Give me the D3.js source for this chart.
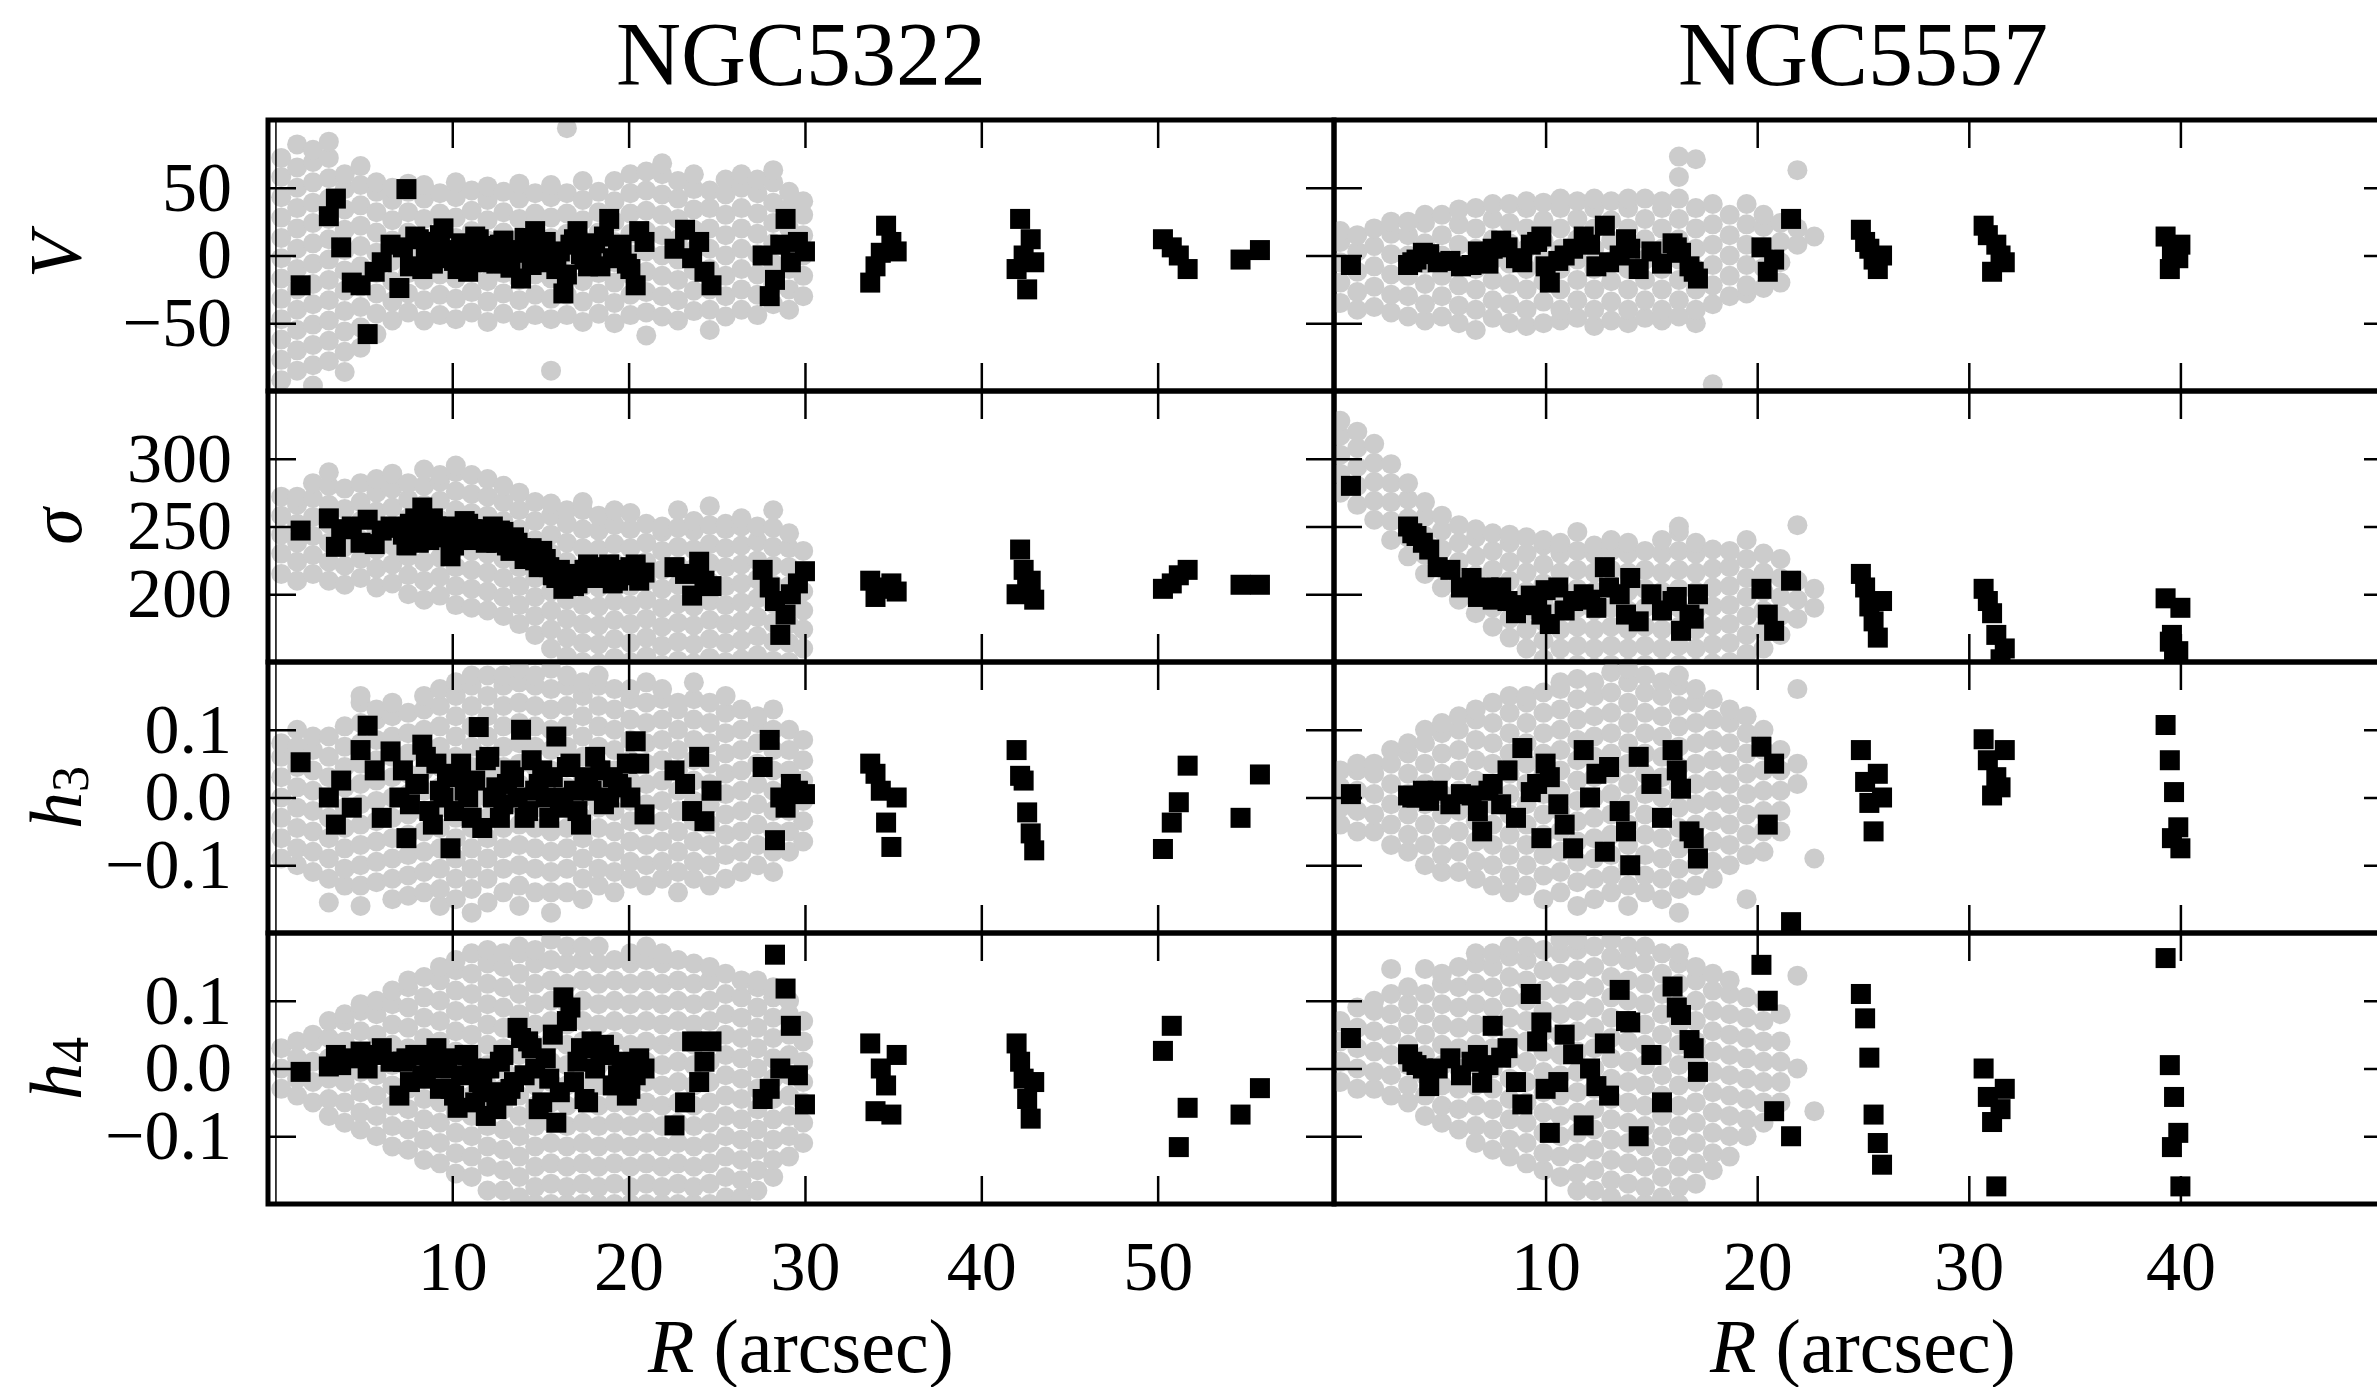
<!DOCTYPE html>
<html>
<head>
<meta charset="utf-8">
<script src="https://cdn.jsdelivr.net/npm/d3@7"></script>
<style>
  body { margin: 0; background: #fff; }
  svg { display: block; }
</style>
</head>
<body>
<svg id="chart"></svg>
<script>
// ---- binned kinematics (black squares) ----
const r5322 = [1.4, 3.0, 3.4, 3.7, 4.3, 4.8, 5.2, 5.6, 6.0, 6.5,
  7.0, 7.4, 7.9, 8.3, 8.7, 9.1, 9.5, 9.9, 10.3, 10.7,
  11.1, 11.5, 11.9, 12.3, 12.7, 13.1, 13.5, 13.9, 14.3, 14.7,
  15.1, 15.5, 15.9, 16.3, 16.7, 17.1, 17.5, 17.9, 18.4, 18.9,
  19.4, 19.9, 20.4, 20.9,
  22.6, 23.2, 23.6, 24.0, 24.3, 24.7,
  27.6, 28.0, 28.3, 28.6, 28.9, 29.2, 29.6, 30.0,
  33.7, 34.0, 34.3, 34.6, 34.9, 35.2,
  42.0, 42.2, 42.4, 42.6, 42.8, 43.0,
  50.3, 50.8, 51.2, 51.7,
  54.7, 55.8,
  7.2, 7.6, 8.1, 8.5, 8.9, 9.3, 9.7, 10.1, 10.5, 10.9,
  11.3, 11.7, 12.1, 12.5, 12.9, 13.3, 13.7, 14.1, 14.5, 14.9,
  15.3, 15.7, 16.1, 16.5, 16.9, 17.3, 17.7, 18.1, 18.6, 19.1,
  19.6, 20.1, 20.6];
const v5322 = [-22, 29, 42, 6, -20, -22, -58, -12, -5, 8,
  -24, 49, 14, -10, 3, 10, 20, -2, -10, 5,
  2, 12, -5, 0, 8, -3, 4, -17, 6, 18,
  -5, 2, -10, -28, 8, 18, -3, 4, -8, 27,
  2, -6, -22, 10,
  5, 19, -2, 10, -12, -22,
  0, -30, -18, 8, 27, -5, 10, 3,
  -20, -8, 2, 22, 10, 3,
  -10, 27, 0, -25, 12, -5,
  12, 6, 0, -10,
  -3, 4,
  6, -8, 12, 0, -6, 15, 4, -4, 9, -12,
  14, 0, 7, -6, 11, -9, 2, 13, -7, 5,
  10, -4, 3, -14, 12, 1, -8, 9, 14, -2,
  8, -10, 18];
const s5322 = [247, 256, 235, 248, 250, 238, 255, 237, 247, 250,
  249, 236, 256, 264, 240, 250, 247, 228, 240, 254,
  248, 245, 238, 250, 247, 236, 242, 234, 228, 225,
  232, 220, 212, 204, 215, 208, 218, 214, 220, 222,
  210, 218, 222, 216,
  220, 215, 199, 224, 210, 206,
  218, 205, 195, 170, 185, 200, 208, 217,
  210, 198, 204, 205, 208, 202,
  200, 233, 218, 205, 210, 196,
  204, 208, 214, 218,
  207, 207,
  244, 252, 238, 248, 256, 242, 250, 236, 246, 252,
  240, 248, 243, 238, 246, 232, 238, 226, 234, 220,
  226, 214, 218, 210, 206, 214, 222, 212, 218, 208,
  214, 220, 210];
const h3_5322 = [0.052, 0.0, -0.04, 0.025, -0.015, 0.07, 0.106, 0.04, -0.03, 0.068,
  0.0, -0.06, 0.02, 0.078, -0.02, 0.05, 0.0, -0.075, 0.03, 0.01,
  -0.03, 0.104, 0.055, 0.0, -0.03, 0.02, 0.03, 0.1, -0.02, 0.01,
  0.04, -0.03, 0.09, 0.0, 0.05, -0.02, 0.03, 0.01, 0.04, 0.0,
  0.02, 0.05, 0.083, -0.025,
  0.04, 0.02, -0.02, 0.06, -0.035, 0.01,
  0.045, 0.085, -0.063, 0.0, -0.015, 0.02, 0.01, 0.005,
  0.05, 0.035, 0.01, -0.037, -0.073, 0.0,
  0.07, 0.032, 0.025, -0.022, -0.053, -0.078,
  -0.076, -0.037, -0.007, 0.047,
  -0.03, 0.034,
  0.04, -0.01, 0.02, 0.06, -0.04, 0.01, 0.035, -0.02, 0.05, 0.0,
  0.025, -0.045, 0.06, 0.015, -0.01, 0.04, 0.0, -0.03, 0.055, 0.02,
  0.0, 0.03, -0.015, 0.045, 0.01, -0.04, 0.025, 0.06, -0.01, 0.03,
  0.015, 0.0, 0.05];
const h4_5322 = [-0.005, 0.003, 0.02, 0.005, 0.015, 0.025, 0.0, 0.02, 0.03, 0.01,
  -0.04, 0.015, 0.02, -0.01, 0.005, 0.03, 0.0, -0.03, -0.058, 0.02,
  0.0, -0.02, -0.07, -0.035, 0.01, -0.04, -0.02, 0.045, 0.04, 0.0,
  -0.05, -0.015, -0.08, 0.105, 0.09, 0.01, -0.045, 0.04, 0.02, 0.02,
  -0.01, -0.04, -0.01, 0.0,
  -0.084, -0.05, 0.04, -0.02, 0.01, 0.04,
  -0.045, -0.03, 0.168, 0.0, 0.118, 0.063, -0.01, -0.053,
  0.037, -0.063, 0.0, -0.025, -0.068, 0.02,
  0.037, 0.01, -0.015, -0.045, -0.074, -0.02,
  0.026, 0.063, -0.116, -0.058,
  -0.068, -0.029,
  0.01, -0.02, 0.02, -0.015, 0.005, -0.03, 0.015, -0.04, -0.01, 0.02,
  -0.05, -0.025, 0.0, -0.06, 0.02, -0.03, 0.06, -0.01, 0.03, -0.06,
  0.015, 0.05, -0.035, 0.07, -0.02, 0.03, -0.05, 0.0, 0.035, -0.025,
  0.01, -0.03, 0.015];

const r5557 = [0.8, 3.5, 3.9, 4.5, 4.9, 6.5, 7.0, 7.5, 7.9, 8.9,
  9.3, 9.8, 10.2, 10.6, 11.3, 11.8, 12.4, 12.8, 13.5, 14.0,
  14.4, 16.0, 16.4, 16.8, 17.2, 20.2, 20.5, 20.8, 21.6,
  24.9, 25.1, 25.3, 25.5, 25.7, 25.9,
  30.7, 30.9, 31.1, 31.3, 31.5, 31.7,
  39.3, 39.5, 39.6, 39.7, 39.9, 40.0,
  3.7, 4.2, 5.5, 6.0, 6.8, 7.3, 8.2, 8.6, 9.6, 10.0,
  10.9, 12.1, 13.0, 13.8, 15.0, 15.5, 16.2, 17.0];
const v5557 = [-7, -7, -3, 1, -5, -7, -2, 5, 11, -5,
  8, 14, -20, -4, 5, 14, -8, 22, 0, 5,
  -10, 9, 2, -8, -17, 6, -12, -3, 27,
  19, 10, 5, -3, -10, 0,
  22, 15, -12, 8, 0, -5,
  14, -10, 0, 5, -2, 8,
  -5, 2, -4, -8, 3, -6, 6, -2, 10, -8,
  0, 8, -5, 12, 3, -6, 6, -12];
const s5557 = [280, 250, 243, 233, 220, 212, 200, 196, 205, 192,
  199, 185, 178, 205, 195, 200, 190, 220, 200, 212,
  180, 195, 173, 185, 200, 204, 185, 173, 210,
  215, 205, 191, 180, 168, 195,
  204, 195, 186, 170, 152, 160,
  197, 165, 170, 153, 158, 190,
  245, 238, 218, 205, 198, 205, 195, 186, 192, 203,
  188, 196, 205, 185, 200, 188, 198, 182];
const h3_5557 = [0.005, 0.003, 0.0, -0.005, 0.01, 0.003, -0.05, 0.02, -0.01, 0.073,
  0.008, -0.06, 0.03, -0.01, -0.075, 0.07, 0.035, -0.08, -0.02, -0.1,
  0.06, 0.07, 0.013, -0.05, -0.09, 0.075, -0.04, 0.05, -0.184,
  0.07, 0.023, -0.008, -0.05, 0.035, 0.0,
  0.086, 0.055, 0.003, 0.03, 0.015, 0.07,
  0.107, 0.055, -0.06, 0.008, -0.044, -0.075,
  0.0, 0.01, -0.01, 0.005, -0.02, 0.01, 0.04, -0.03, 0.02, 0.05,
  -0.04, 0.0, 0.045, -0.05, 0.02, -0.03, 0.04, -0.06];
const h4_5557 = [0.045, 0.021, 0.005, -0.026, 0.0, 0.01, -0.021, 0.063, 0.016, -0.053,
  0.11, 0.068, -0.095, -0.02, 0.021, -0.084, -0.026, 0.037, 0.116, 0.068,
  -0.1, 0.121, 0.079, 0.042, -0.005, 0.153, 0.1, -0.063, -0.1,
  0.11, 0.074, 0.016, -0.068, -0.11, -0.142,
  0.0, -0.042, -0.079, -0.174, -0.06, -0.03,
  0.163, 0.005, -0.116, -0.042, -0.095, -0.174,
  0.01, 0.0, 0.015, -0.01, 0.02, 0.005, 0.03, -0.02, 0.04, -0.03,
  0.05, 0.0, -0.04, 0.07, 0.02, -0.05, 0.09, 0.03];

// ---- individual spectra (grey dots), one list of values per radius ----
const gR5322 = [0.3, 1.2, 2.1, 3.0, 3.9, 4.8, 5.7, 6.6, 7.5, 8.4,
  9.3, 10.2, 11.1, 12.0, 12.9, 13.8, 14.7, 15.6, 16.5, 17.4,
  18.3, 19.2, 20.1, 21.0, 21.9, 22.8, 23.7, 24.6, 25.5, 26.4,
  27.3, 28.2, 29.1, 29.9];
const gV5322 = [
  [-92, -77, -62, -47, -32, -17, -2, 13, 28, 43, 58, 72],
  [-85, -70, -55, -40, -25, -10, 5, 20, 35, 50, 65, 82],
  [-96, -81, -66, -51, -36, -21, -6, 9, 24, 39, 54, 69, 78],
  [-78, -63, -48, -33, -18, -3, 12, 27, 42, 57, 72, 84],
  [-86, -71, -56, -41, -26, -11, 4, 19, 34, 49, 60],
  [-68, -53, -38, -23, -8, 7, 22, 37, 52, 66],
  [-58, -43, -28, -13, 2, 17, 32, 47, 54],
  [-48, -34, -19, -4, 11, 26, 41, 50],
  [-42, -28, -13, 2, 17, 32, 47, 53],
  [-48, -33, -18, -3, 12, 27, 42, 52],
  [-44, -29, -14, 1, 16, 31, 46],
  [-47, -32, -17, -2, 13, 28, 43, 54],
  [-42, -27, -12, 3, 18, 33, 48],
  [-49, -34, -19, -4, 11, 26, 41, 51],
  [-43, -28, -13, 2, 17, 32, 47],
  [-48, -33, -18, -3, 12, 27, 42, 53],
  [-44, -29, -14, 1, 16, 31, 46],
  [-85, -47, -32, -17, -2, 13, 28, 43, 52],
  [-44, -29, -14, 1, 16, 31, 46, 94],
  [-49, -34, -19, -4, 11, 26, 41, 55],
  [-43, -28, -13, 2, 17, 32, 47],
  [-50, -35, -20, -5, 10, 25, 40, 55],
  [-44, -29, -14, 1, 16, 31, 46, 60],
  [-59, -42, -27, -12, 3, 18, 33, 48, 62],
  [-45, -30, -15, 0, 15, 30, 45, 60, 68],
  [-48, -33, -18, -3, 12, 27, 42, 55],
  [-41, -26, -11, 4, 19, 34, 49, 60],
  [-55, -40, -25, -10, 5, 20, 35, 48],
  [-45, -30, -15, 0, 15, 30, 45, 56],
  [-40, -25, -10, 5, 20, 35, 50, 60],
  [-44, -29, -14, 1, 16, 31, 46, 56],
  [-36, -21, -6, 9, 24, 39, 54, 63],
  [-40, -25, -10, 5, 20, 35, 47],
  [-30, -15, 0, 15, 30, 40]];
const gS5322 = [
  [215, 230, 244, 258, 272],
  [210, 224, 238, 252, 266, 272],
  [215, 229, 243, 257, 271, 282],
  [210, 224, 238, 252, 266, 280, 290],
  [207, 221, 235, 249, 263, 278],
  [212, 226, 240, 254, 268, 282],
  [205, 219, 233, 247, 261, 275, 285],
  [208, 222, 236, 250, 264, 278, 289],
  [200, 214, 228, 242, 256, 270, 282],
  [196, 210, 224, 238, 252, 266, 280, 292],
  [199, 213, 227, 241, 255, 269, 283, 288],
  [192, 206, 220, 234, 248, 262, 276, 290, 295],
  [190, 204, 218, 232, 246, 260, 274, 288],
  [188, 202, 216, 230, 244, 258, 272, 285],
  [184, 198, 212, 226, 240, 254, 268, 280],
  [178, 192, 206, 220, 234, 248, 262, 275],
  [170, 184, 198, 212, 226, 240, 254, 268],
  [160, 174, 188, 202, 216, 230, 244, 258, 267],
  [154, 168, 182, 196, 210, 224, 238, 252, 262],
  [150, 164, 178, 192, 206, 220, 234, 248, 262, 268],
  [149, 163, 177, 191, 205, 219, 233, 247, 258],
  [153, 167, 181, 195, 209, 223, 237, 251, 262],
  [150, 164, 178, 192, 206, 220, 234, 248, 260],
  [154, 168, 182, 196, 210, 224, 238, 252],
  [148, 162, 176, 190, 204, 218, 232, 246, 250],
  [151, 165, 179, 193, 207, 221, 235, 249, 262],
  [149, 163, 177, 191, 205, 219, 233, 247, 254],
  [153, 167, 181, 195, 209, 223, 237, 251, 265],
  [150, 164, 178, 192, 206, 220, 234, 248, 252],
  [152, 166, 180, 194, 208, 222, 236, 250, 256],
  [155, 169, 183, 197, 211, 225, 239, 250],
  [151, 165, 179, 193, 207, 221, 235, 249, 262],
  [150, 164, 178, 192, 206, 220, 234, 245],
  [160, 174, 188, 202, 216, 232]];
const gH3_5322 = [
  [-0.09, -0.06, -0.03, 0.0, 0.03, 0.06, 0.08],
  [-0.1, -0.075, -0.045, -0.015, 0.015, 0.045, 0.075, 0.1],
  [-0.11, -0.08, -0.05, -0.02, 0.01, 0.04, 0.07, 0.09],
  [-0.155, -0.12, -0.09, -0.06, -0.03, 0.0, 0.03, 0.06, 0.09],
  [-0.13, -0.105, -0.075, -0.045, -0.015, 0.015, 0.045, 0.075, 0.105],
  [-0.16, -0.13, -0.1, -0.07, -0.04, -0.01, 0.02, 0.05, 0.08, 0.11, 0.14, 0.15],
  [-0.125, -0.095, -0.065, -0.035, -0.005, 0.025, 0.055, 0.085, 0.115, 0.13],
  [-0.15, -0.12, -0.09, -0.06, -0.03, 0.0, 0.03, 0.06, 0.09, 0.12, 0.14],
  [-0.145, -0.115, -0.085, -0.055, -0.025, 0.005, 0.035, 0.065, 0.095, 0.125],
  [-0.14, -0.11, -0.08, -0.05, -0.02, 0.01, 0.04, 0.07, 0.1, 0.13, 0.15],
  [-0.16, -0.135, -0.105, -0.075, -0.045, -0.015, 0.015, 0.045, 0.075, 0.105, 0.135, 0.16],
  [-0.15, -0.12, -0.09, -0.06, -0.03, 0.0, 0.03, 0.06, 0.09, 0.12, 0.15, 0.17],
  [-0.17, -0.135, -0.105, -0.075, -0.045, -0.015, 0.015, 0.045, 0.075, 0.105, 0.135, 0.165, 0.18],
  [-0.155, -0.12, -0.09, -0.06, -0.03, 0.0, 0.03, 0.06, 0.09, 0.12, 0.15, 0.18],
  [-0.14, -0.105, -0.075, -0.045, -0.015, 0.015, 0.045, 0.075, 0.105, 0.135, 0.165, 0.18],
  [-0.16, -0.13, -0.1, -0.07, -0.04, -0.01, 0.02, 0.05, 0.08, 0.11, 0.14, 0.17, 0.19],
  [-0.14, -0.105, -0.075, -0.045, -0.015, 0.015, 0.045, 0.075, 0.105, 0.135, 0.165, 0.18],
  [-0.17, -0.14, -0.11, -0.08, -0.05, -0.02, 0.01, 0.04, 0.07, 0.1, 0.13, 0.16, 0.19],
  [-0.14, -0.105, -0.075, -0.045, -0.015, 0.015, 0.045, 0.075, 0.105, 0.135, 0.165, 0.18],
  [-0.15, -0.12, -0.09, -0.06, -0.03, 0.0, 0.03, 0.06, 0.09, 0.12, 0.15, 0.17],
  [-0.13, -0.105, -0.075, -0.045, -0.015, 0.015, 0.045, 0.075, 0.105, 0.135, 0.165, 0.18],
  [-0.14, -0.11, -0.08, -0.05, -0.02, 0.01, 0.04, 0.07, 0.1, 0.13, 0.16],
  [-0.12, -0.095, -0.065, -0.035, -0.005, 0.025, 0.055, 0.085, 0.115, 0.145, 0.16],
  [-0.13, -0.1, -0.07, -0.04, -0.01, 0.02, 0.05, 0.08, 0.11, 0.14, 0.17],
  [-0.12, -0.095, -0.065, -0.035, -0.005, 0.025, 0.055, 0.085, 0.115, 0.145, 0.16],
  [-0.14, -0.11, -0.08, -0.05, -0.02, 0.01, 0.04, 0.07, 0.1, 0.13, 0.14],
  [-0.12, -0.095, -0.065, -0.035, -0.005, 0.025, 0.055, 0.085, 0.115, 0.145, 0.17],
  [-0.13, -0.1, -0.07, -0.04, -0.01, 0.02, 0.05, 0.08, 0.11, 0.14],
  [-0.12, -0.085, -0.055, -0.025, 0.005, 0.035, 0.065, 0.095, 0.125, 0.15],
  [-0.11, -0.08, -0.05, -0.02, 0.01, 0.04, 0.07, 0.1, 0.13],
  [-0.1, -0.07, -0.04, -0.01, 0.02, 0.05, 0.08, 0.11, 0.12],
  [-0.11, -0.08, -0.05, -0.02, 0.01, 0.04, 0.07, 0.1, 0.13],
  [-0.08, -0.05, -0.02, 0.01, 0.04, 0.07, 0.1],
  [-0.065, -0.035, -0.005, 0.025, 0.055, 0.085]];
const gH4_5322 = [
  [-0.03, 0.0, 0.03],
  [-0.04, -0.015, 0.015, 0.04],
  [-0.05, -0.02, 0.01, 0.04, 0.05],
  [-0.07, -0.045, -0.015, 0.015, 0.045, 0.07],
  [-0.08, -0.05, -0.02, 0.01, 0.04, 0.07, 0.08],
  [-0.09, -0.065, -0.035, -0.005, 0.025, 0.055, 0.085, 0.095],
  [-0.1, -0.07, -0.04, -0.01, 0.02, 0.05, 0.08, 0.1],
  [-0.115, -0.085, -0.055, -0.025, 0.005, 0.035, 0.065, 0.095, 0.115],
  [-0.12, -0.09, -0.06, -0.03, 0.0, 0.03, 0.06, 0.09, 0.12, 0.13],
  [-0.135, -0.105, -0.075, -0.045, -0.015, 0.015, 0.045, 0.075, 0.105, 0.135],
  [-0.14, -0.11, -0.08, -0.05, -0.02, 0.01, 0.04, 0.07, 0.1, 0.13, 0.15],
  [-0.155, -0.125, -0.095, -0.065, -0.035, -0.005, 0.025, 0.055, 0.085, 0.115, 0.145, 0.16],
  [-0.16, -0.13, -0.1, -0.07, -0.04, -0.01, 0.02, 0.05, 0.08, 0.11, 0.14, 0.17],
  [-0.18, -0.145, -0.115, -0.085, -0.055, -0.025, 0.005, 0.035, 0.065, 0.095, 0.125, 0.155, 0.175],
  [-0.18, -0.15, -0.12, -0.09, -0.06, -0.03, 0.0, 0.03, 0.06, 0.09, 0.12, 0.15, 0.17],
  [-0.19, -0.16, -0.13, -0.1, -0.07, -0.04, -0.01, 0.02, 0.05, 0.08, 0.11, 0.14, 0.17, 0.18],
  [-0.2, -0.175, -0.145, -0.115, -0.085, -0.055, -0.025, 0.005, 0.035, 0.065, 0.095, 0.125, 0.155, 0.175],
  [-0.2, -0.17, -0.14, -0.11, -0.08, -0.05, -0.02, 0.01, 0.04, 0.07, 0.1, 0.13, 0.16, 0.19],
  [-0.2, -0.175, -0.145, -0.115, -0.085, -0.055, -0.025, 0.005, 0.035, 0.065, 0.095, 0.125, 0.155, 0.18],
  [-0.2, -0.17, -0.14, -0.11, -0.08, -0.05, -0.02, 0.01, 0.04, 0.07, 0.1, 0.13, 0.16, 0.18],
  [-0.2, -0.175, -0.145, -0.115, -0.085, -0.055, -0.025, 0.005, 0.035, 0.065, 0.095, 0.125, 0.155, 0.18],
  [-0.2, -0.17, -0.14, -0.11, -0.08, -0.05, -0.02, 0.01, 0.04, 0.07, 0.1, 0.13, 0.16],
  [-0.2, -0.175, -0.145, -0.115, -0.085, -0.055, -0.025, 0.005, 0.035, 0.065, 0.095, 0.125, 0.155, 0.17],
  [-0.2, -0.17, -0.14, -0.11, -0.08, -0.05, -0.02, 0.01, 0.04, 0.07, 0.1, 0.13, 0.16, 0.18],
  [-0.2, -0.175, -0.145, -0.115, -0.085, -0.055, -0.025, 0.005, 0.035, 0.065, 0.095, 0.125, 0.155, 0.17],
  [-0.2, -0.17, -0.14, -0.11, -0.08, -0.05, -0.02, 0.01, 0.04, 0.07, 0.1, 0.13, 0.16],
  [-0.2, -0.175, -0.145, -0.115, -0.085, -0.055, -0.025, 0.005, 0.035, 0.065, 0.095, 0.125, 0.155],
  [-0.2, -0.17, -0.14, -0.11, -0.08, -0.05, -0.02, 0.01, 0.04, 0.07, 0.1, 0.13, 0.15],
  [-0.19, -0.16, -0.13, -0.1, -0.07, -0.04, -0.01, 0.02, 0.05, 0.08, 0.11, 0.14],
  [-0.19, -0.165, -0.135, -0.105, -0.075, -0.045, -0.015, 0.015, 0.045, 0.075, 0.105, 0.13],
  [-0.18, -0.15, -0.12, -0.09, -0.06, -0.03, 0.0, 0.03, 0.06, 0.09, 0.12, 0.13],
  [-0.16, -0.135, -0.105, -0.075, -0.045, -0.015, 0.015, 0.045, 0.075, 0.105, 0.12],
  [-0.13, -0.1, -0.07, -0.04, -0.01, 0.02, 0.05, 0.08, 0.1],
  [-0.11, -0.08, -0.05, -0.02, 0.01, 0.04, 0.07]];

const gR5557 = [0.3, 1.1, 1.9, 2.7, 3.5, 4.3, 5.1, 5.9, 6.7, 7.5,
  8.3, 9.1, 9.9, 10.7, 11.5, 12.3, 13.1, 13.9, 14.7, 15.5,
  16.3, 17.1, 17.9, 18.7, 19.5, 20.3, 21.1, 21.9, 22.7];
const gV5557 = [
  [-35, -20, -5, 10, 18],
  [-40, -27, -12, 3, 15],
  [-38, -23, -8, 7, 20],
  [-42, -29, -14, 1, 16, 25],
  [-45, -30, -15, 0, 15, 25],
  [-48, -36, -21, -6, 9, 24, 30],
  [-45, -30, -15, 0, 15, 30],
  [-50, -37, -22, -7, 8, 23, 34],
  [-55, -40, -25, -10, 5, 20, 35],
  [-46, -33, -18, -3, 12, 27, 38],
  [-50, -36, -21, -6, 9, 24, 38],
  [-52, -40, -25, -10, 5, 20, 35, 40],
  [-50, -34, -19, -4, 11, 26, 39],
  [-48, -40, -25, -10, 5, 20, 35, 42],
  [-46, -33, -18, -3, 12, 27, 40],
  [-52, -40, -25, -10, 5, 20, 35, 42],
  [-48, -34, -19, -4, 11, 26, 40],
  [-50, -40, -25, -10, 5, 20, 35, 42],
  [-46, -33, -18, -3, 12, 27, 42],
  [-48, -40, -25, -10, 5, 20, 35, 40],
  [-45, -33, -18, -3, 12, 27, 42, 58, 73],
  [-50, -40, -25, -10, 5, 20, 35, 71],
  [-95, -36, -22, -7, 8, 23, 38],
  [-30, -15, 0, 15, 30],
  [-28, -22, -7, 8, 23, 38],
  [-24, -9, 6, 21, 30],
  [-20, -5, 10, 24],
  [8, 20, 63],
  [14]];
const gS5557 = [
  [275, 289, 303, 317, 328],
  [266, 280, 294, 308, 320],
  [255, 269, 283, 297, 311],
  [240, 254, 268, 282, 296],
  [228, 242, 256, 270, 282],
  [215, 229, 243, 257, 268],
  [205, 219, 233, 247, 258],
  [196, 210, 224, 238, 251],
  [186, 200, 214, 228, 242, 248],
  [176, 190, 204, 218, 232, 245],
  [168, 182, 196, 210, 224, 238, 244],
  [160, 174, 188, 202, 216, 230, 242],
  [152, 166, 180, 194, 208, 222, 236, 240],
  [146, 160, 174, 188, 202, 216, 230, 238],
  [148, 162, 176, 190, 204, 218, 232, 246],
  [146, 160, 174, 188, 202, 216, 230, 236],
  [148, 162, 176, 190, 204, 218, 232, 240],
  [146, 160, 174, 188, 202, 216, 230, 238],
  [148, 162, 176, 190, 204, 218, 232],
  [146, 160, 174, 188, 202, 216, 230, 240],
  [148, 162, 176, 190, 204, 218, 232, 246, 250],
  [146, 160, 174, 188, 202, 216, 230, 238],
  [149, 163, 177, 191, 205, 219, 233],
  [150, 164, 178, 192, 206, 220, 232],
  [156, 170, 184, 198, 212, 226, 240],
  [160, 174, 188, 202, 216, 230],
  [170, 184, 198, 212, 226],
  [182, 196, 210, 251],
  [190, 204]];
const gH3_5557 = [
  [-0.04, -0.015, 0.015, 0.04],
  [-0.05, -0.02, 0.01, 0.04, 0.05],
  [-0.05, -0.025, 0.005, 0.035, 0.05],
  [-0.07, -0.04, -0.01, 0.02, 0.05, 0.07],
  [-0.08, -0.055, -0.025, 0.005, 0.035, 0.065, 0.08],
  [-0.1, -0.07, -0.04, -0.01, 0.02, 0.05, 0.08, 0.1],
  [-0.11, -0.085, -0.055, -0.025, 0.005, 0.035, 0.065, 0.095, 0.11],
  [-0.11, -0.08, -0.05, -0.02, 0.01, 0.04, 0.07, 0.1, 0.12],
  [-0.12, -0.095, -0.065, -0.035, -0.005, 0.025, 0.055, 0.085, 0.115, 0.13],
  [-0.13, -0.1, -0.07, -0.04, -0.01, 0.02, 0.05, 0.08, 0.11, 0.14],
  [-0.14, -0.115, -0.085, -0.055, -0.025, 0.005, 0.035, 0.065, 0.095, 0.125, 0.15],
  [-0.13, -0.1, -0.07, -0.04, -0.01, 0.02, 0.05, 0.08, 0.11, 0.14, 0.15],
  [-0.15, -0.115, -0.085, -0.055, -0.025, 0.005, 0.035, 0.065, 0.095, 0.125, 0.155],
  [-0.14, -0.11, -0.08, -0.05, -0.02, 0.01, 0.04, 0.07, 0.1, 0.13, 0.16, 0.17],
  [-0.16, -0.125, -0.095, -0.065, -0.035, -0.005, 0.025, 0.055, 0.085, 0.115, 0.145, 0.175],
  [-0.15, -0.12, -0.09, -0.06, -0.03, 0.0, 0.03, 0.06, 0.09, 0.12, 0.15, 0.17],
  [-0.14, -0.115, -0.085, -0.055, -0.025, 0.005, 0.035, 0.065, 0.095, 0.125, 0.155, 0.185],
  [-0.16, -0.13, -0.1, -0.07, -0.04, -0.01, 0.02, 0.05, 0.08, 0.11, 0.14, 0.17, 0.19],
  [-0.14, -0.115, -0.085, -0.055, -0.025, 0.005, 0.035, 0.065, 0.095, 0.125, 0.155, 0.18],
  [-0.15, -0.12, -0.09, -0.06, -0.03, 0.0, 0.03, 0.06, 0.09, 0.12, 0.15, 0.17],
  [-0.17, -0.135, -0.105, -0.075, -0.045, -0.015, 0.015, 0.045, 0.075, 0.105, 0.135, 0.165, 0.18],
  [-0.13, -0.1, -0.07, -0.04, -0.01, 0.02, 0.05, 0.08, 0.11, 0.14, 0.16],
  [-0.12, -0.095, -0.065, -0.035, -0.005, 0.025, 0.055, 0.085, 0.115, 0.145],
  [-0.1, -0.07, -0.04, -0.01, 0.02, 0.05, 0.08, 0.11, 0.13],
  [-0.15, -0.085, -0.055, -0.025, 0.005, 0.035, 0.065, 0.095, 0.12],
  [-0.08, -0.05, -0.02, 0.01, 0.04, 0.07, 0.1],
  [-0.05, -0.02, 0.01, 0.04, 0.07],
  [0.02, 0.05, 0.16],
  [-0.09]];
const gH4_5557 = [
  [-0.02, 0.01, 0.04, 0.07],
  [-0.03, 0.0, 0.03, 0.06, 0.09],
  [-0.03, -0.005, 0.025, 0.055, 0.085, 0.1],
  [-0.04, -0.01, 0.02, 0.05, 0.08, 0.11, 0.147],
  [-0.05, -0.025, 0.005, 0.035, 0.065, 0.095, 0.12],
  [-0.07, -0.04, -0.01, 0.02, 0.05, 0.08, 0.11, 0.147],
  [-0.08, -0.055, -0.025, 0.005, 0.035, 0.065, 0.095, 0.125, 0.14],
  [-0.09, -0.06, -0.03, 0.0, 0.03, 0.06, 0.09, 0.12, 0.15],
  [-0.11, -0.085, -0.055, -0.025, 0.005, 0.035, 0.065, 0.095, 0.125, 0.155, 0.17],
  [-0.12, -0.09, -0.06, -0.03, 0.0, 0.03, 0.06, 0.09, 0.12, 0.15, 0.17],
  [-0.13, -0.105, -0.075, -0.045, -0.015, 0.015, 0.045, 0.075, 0.105, 0.135, 0.165, 0.18],
  [-0.14, -0.11, -0.08, -0.05, -0.02, 0.01, 0.04, 0.07, 0.1, 0.13, 0.16, 0.18],
  [-0.15, -0.125, -0.095, -0.065, -0.035, -0.005, 0.025, 0.055, 0.085, 0.115, 0.145, 0.175],
  [-0.16, -0.13, -0.1, -0.07, -0.04, -0.01, 0.02, 0.05, 0.08, 0.11, 0.14, 0.17, 0.19],
  [-0.18, -0.155, -0.125, -0.095, -0.065, -0.035, -0.005, 0.025, 0.055, 0.085, 0.115, 0.145, 0.175, 0.19],
  [-0.18, -0.15, -0.12, -0.09, -0.06, -0.03, 0.0, 0.03, 0.06, 0.09, 0.12, 0.15, 0.18],
  [-0.19, -0.165, -0.135, -0.105, -0.075, -0.045, -0.015, 0.015, 0.045, 0.075, 0.105, 0.135, 0.165, 0.19],
  [-0.2, -0.17, -0.14, -0.11, -0.08, -0.05, -0.02, 0.01, 0.04, 0.07, 0.1, 0.13, 0.16, 0.18],
  [-0.2, -0.175, -0.145, -0.115, -0.085, -0.055, -0.025, 0.005, 0.035, 0.065, 0.095, 0.125, 0.155, 0.18],
  [-0.19, -0.16, -0.13, -0.1, -0.07, -0.04, -0.01, 0.02, 0.05, 0.08, 0.11, 0.14, 0.17],
  [-0.2, -0.175, -0.145, -0.115, -0.085, -0.055, -0.025, 0.005, 0.035, 0.065, 0.095, 0.125, 0.155, 0.17],
  [-0.17, -0.14, -0.11, -0.08, -0.05, -0.02, 0.01, 0.04, 0.07, 0.1, 0.13, 0.15],
  [-0.15, -0.125, -0.095, -0.065, -0.035, -0.005, 0.025, 0.055, 0.085, 0.115, 0.14],
  [-0.13, -0.1, -0.07, -0.04, -0.01, 0.02, 0.05, 0.08, 0.11, 0.13],
  [-0.1, -0.075, -0.045, -0.015, 0.015, 0.045, 0.075, 0.105],
  [-0.08, -0.05, -0.02, 0.01, 0.04, 0.07, 0.1],
  [-0.05, -0.02, 0.01, 0.04, 0.08],
  [0.137, 0.0],
  [-0.063]];

// ---- axes setup ----
const titles = ['NGC5322', 'NGC5557'];
const xTicks5322 = [10, 20, 30, 40, 50];
const xTicks5557 = [10, 20, 30, 40];
const yTicksV = [-50, 0, 50];
const yTicksS = [200, 250, 300];
const yTicksH = [-0.1, 0.0, 0.1];

const width = 2377, height = 1387;
const font = '"Liberation Serif", "DejaVu Serif", serif';
const rowTops = [120, 391, 662, 933];
const rowH = 271;
const tickLen = 28;

const svg = d3.select('#chart')
    .attr('width', width)
    .attr('height', height)
    .style('font-family', font);

const rows = [
    { domain: [-100, 100], ticks: yTicksV, fmt: d3.format('d'), label: 'V', sub: null },
    { domain: [150, 350], ticks: yTicksS, fmt: d3.format('d'), label: 'σ', sub: null },
    { domain: [-0.2, 0.2], ticks: yTicksH, fmt: d3.format('.1f'), label: 'h', sub: '3' },
    { domain: [-0.2, 0.2], ticks: yTicksH, fmt: d3.format('.1f'), label: 'h', sub: '4' }
];

const galaxies = [
    {
        x: d3.scaleLinear().domain([-0.45, 60]).range([268, 1334]),
        ticks: xTicks5322, R: r5322, vals: [v5322, s5322, h3_5322, h4_5322],
        gR: gR5322, gvals: [gV5322, gS5322, gH3_5322, gH4_5322], zeroLine: true
    },
    {
        x: d3.scaleLinear().domain([0, 50]).range([1334, 2392]),
        ticks: xTicks5557, R: r5557, vals: [v5557, s5557, h3_5557, h4_5557],
        gR: gR5557, gvals: [gV5557, gS5557, gH3_5557, gH4_5557], zeroLine: false
    }
];

const defs = svg.append('defs');

galaxies.forEach((g, gi) => {
    const [x0, x1] = g.x.range();
    rows.forEach((row, ri) => {
        const top = rowTops[ri];
        const y = d3.scaleLinear().domain(row.domain).range([top + rowH, top]);
        const clipId = `clip-${gi}-${ri}`;
        defs.append('clipPath').attr('id', clipId)
            .append('rect').attr('x', x0).attr('y', top).attr('width', x1 - x0).attr('height', rowH);

        const panel = svg.append('g').attr('clip-path', `url(#${clipId})`);

        // grey cloud of single spectra
        const grey = [];
        g.gR.forEach((R, i) => g.gvals[ri][i].forEach(v => grey.push([R, v])));
        panel.selectAll('circle.grey')
            .data(grey)
            .enter().append('circle')
            .attr('cx', d => g.x(d[0]))
            .attr('cy', d => y(d[1]))
            .attr('r', 10)
            .attr('fill', '#cccccc');

        if (g.zeroLine) {
            panel.append('line')
                .attr('x1', g.x(0)).attr('x2', g.x(0))
                .attr('y1', top).attr('y2', top + rowH)
                .attr('stroke', '#000').attr('stroke-width', 1.5);
        }

        // binned values
        const sq = 20;
        panel.selectAll('rect.bin')
            .data(g.R.map((R, i) => [R, g.vals[ri][i]]))
            .enter().append('rect')
            .attr('x', d => g.x(d[0]) - sq / 2)
            .attr('y', d => y(d[1]) - sq / 2)
            .attr('width', sq).attr('height', sq)
            .attr('fill', '#000');

        // ticks (inward on all four sides)
        const isBottom = ri === rows.length - 1;
        svg.append('g').attr('transform', `translate(0,${top + rowH})`)
            .call(d3.axisBottom(g.x).tickValues(g.ticks).tickSize(-tickLen).tickPadding(36)
                .tickFormat(isBottom ? d3.format('d') : () => ''));
        svg.append('g').attr('transform', `translate(0,${top})`)
            .call(d3.axisTop(g.x).tickValues(g.ticks).tickSize(-tickLen).tickFormat(() => ''));
        svg.append('g').attr('transform', `translate(${x0},0)`)
            .call(d3.axisLeft(y).tickValues(row.ticks).tickSize(-tickLen).tickPadding(36)
                .tickFormat(gi === 0 ? row.fmt : () => ''));
        svg.append('g').attr('transform', `translate(${x1},0)`)
            .call(d3.axisRight(y).tickValues(row.ticks).tickSize(-tickLen).tickFormat(() => ''));

        // frame
        svg.append('rect')
            .attr('x', x0).attr('y', top)
            .attr('width', x1 - x0).attr('height', rowH)
            .attr('fill', 'none').attr('stroke', '#000').attr('stroke-width', 5);

        // y label
        if (gi === 0) {
            const t = svg.append('text')
                .attr('transform', `translate(56,${top + rowH / 2}) rotate(-90)`)
                .attr('text-anchor', 'middle')
                .attr('dominant-baseline', 'central')
                .attr('font-size', 74);
            t.append('tspan').attr('font-style', 'italic').text(row.label);
            if (row.sub) {
                t.append('tspan').attr('font-size', 52).attr('dy', 14).text(row.sub);
            }
        }
    });

    // title
    svg.append('text')
        .attr('x', (x0 + x1) / 2).attr('y', 85)
        .attr('text-anchor', 'middle')
        .attr('font-size', 90)
        .text(titles[gi]);

    // x label
    const xl = svg.append('text')
        .attr('x', (x0 + x1) / 2).attr('y', 1372)
        .attr('text-anchor', 'middle')
        .attr('font-size', 76);
    xl.append('tspan').attr('font-style', 'italic').text('R');
    xl.append('tspan').text(' (arcsec)');
});

svg.selectAll('.domain').remove();
svg.selectAll('.tick line').attr('stroke', '#000').attr('stroke-width', 2.5);
svg.selectAll('.tick text').attr('font-size', 70).attr('font-family', font).attr('fill', '#000');
</script>
</body>
</html>
